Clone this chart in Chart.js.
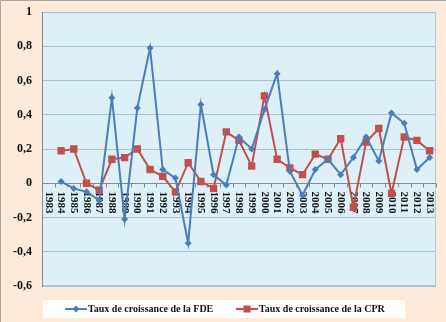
<!DOCTYPE html>
<html><head><meta charset="utf-8">
<script src="https://cdn.jsdelivr.net/npm/chart.js@4/dist/chart.umd.min.js"></script>
<style>html,body{margin:0;padding:0;background:#fdeadb}canvas{display:block}</style>
</head><body>
<canvas id="c" width="446" height="322"></canvas>
<script>
const years = ['1983','1984','1985','1986','1987','1988','1989','1990','1991','1992','1993','1994','1995','1996','1997','1998','1999','2000','2001','2002','2003','2004','2005','2006','2007','2008','2009','2010','2011','2012','2013'];
const fdeGrowth = [null,0.01,-0.03,-0.05,-0.10,0.50,-0.21,0.44,0.79,0.08,0.03,-0.35,0.46,0.05,-0.01,0.27,0.20,0.43,0.64,0.07,-0.07,0.08,0.14,0.05,0.15,0.27,0.13,0.41,0.35,0.08,0.15];
const cprGrowth = [null,0.19,0.20,0.00,-0.04,0.14,0.15,0.20,0.08,0.04,-0.05,0.12,0.01,-0.03,0.30,0.25,0.10,0.51,0.14,0.09,0.05,0.17,0.14,0.26,-0.14,0.24,0.32,-0.06,0.27,0.25,0.19];
const seriesNames = ['Taux de croissance de la FDE','Taux de croissance de la CPR'];
const yMin = -0.6, yMax = 1, yStep = 0.2;

const BLUE = '#4a7ebb', RED = '#c0504d';
const SERIF = '"Liberation Serif","Times New Roman",serif';

function fmt(v){
  const r = Math.round(v*10)/10;
  if (r === 0) return '0';
  if (Number.isInteger(r)) return String(r);
  return r.toFixed(1).replace('.', ',');
}

const deco = {
  id: 'deco',
  beforeDraw(chart){
    const {ctx, chartArea:a, width, height} = chart;
    ctx.save();
    ctx.fillStyle = '#fdeadb';
    ctx.fillRect(0,0,width,height);
    ctx.strokeStyle = '#a6a6a6';
    ctx.lineWidth = 1;
    ctx.beginPath();
    ctx.moveTo(0.5,height); ctx.lineTo(0.5,0.5); ctx.lineTo(width,0.5);
    ctx.stroke();
    ctx.fillStyle = '#ddf0f8';
    ctx.fillRect(a.left, a.top, a.right-a.left, a.bottom-a.top);
    ctx.strokeStyle = '#b4c8d4';
    ctx.strokeRect(a.left+0.5, a.top+0.5, a.right-a.left-1, a.bottom-a.top-1);
    ctx.restore();
  },
  beforeDatasetsDraw(chart){
    const {ctx, chartArea:a} = chart;
    const xs = chart.scales.x, ys = chart.scales.y;
    const y0 = Math.round(ys.getPixelForValue(0)) + 0.5;
    ctx.save();
    ctx.strokeStyle = '#8a8a8a';
    ctx.lineWidth = 1;
    const n = years.length;
    for (let i = 0; i <= n; i++){
      const x = Math.round(a.left + i*(a.right-a.left)/n) + 0.5;
      ctx.beginPath(); ctx.moveTo(x, y0); ctx.lineTo(x, y0+4); ctx.stroke();
    }
    ctx.fillStyle = '#111';
    ctx.font = 'bold 11px ' + SERIF;
    ctx.textAlign = 'left';
    ctx.textBaseline = 'middle';
    years.forEach((lab, i) => {
      const x = xs.getPixelForValue(i);
      ctx.save();
      ctx.translate(x, y0 + 8);
      ctx.rotate(Math.PI/2);
      ctx.fillText(lab, 0, 0);
      ctx.restore();
    });
    ctx.restore();
  },
  afterDraw(chart){
    const {ctx} = chart;
    ctx.save();
    ctx.fillStyle = '#ffffff';
    ctx.fillRect(43, 300, 362, 18);
    const ly = 309;
    ctx.lineWidth = 2;
    ctx.strokeStyle = BLUE;
    ctx.beginPath(); ctx.moveTo(65, ly); ctx.lineTo(87, ly); ctx.stroke();
    ctx.fillStyle = BLUE;
    ctx.beginPath(); ctx.moveTo(76, ly-3.5); ctx.lineTo(79.5, ly); ctx.lineTo(76, ly+3.5); ctx.lineTo(72.5, ly); ctx.closePath(); ctx.fill();
    ctx.strokeStyle = RED;
    ctx.beginPath(); ctx.moveTo(236, ly); ctx.lineTo(258, ly); ctx.stroke();
    ctx.fillStyle = RED;
    ctx.fillRect(243.5, ly-3.5, 7, 7);
    ctx.fillStyle = '#111';
    ctx.font = 'bold 10px ' + SERIF;
    ctx.textAlign = 'left';
    ctx.textBaseline = 'middle';
    ctx.fillText(chart.data.datasets[0].label, 88, ly+0.5);
    ctx.fillText(chart.data.datasets[1].label, 259, ly+0.5);
    ctx.restore();
  }
};

new Chart(document.getElementById('c'), {
  type: 'line',
  data: {
    labels: years,
    datasets: [
      {label: seriesNames[0], data: fdeGrowth, borderColor: BLUE, backgroundColor: BLUE, borderWidth: 2,
       pointStyle: 'rectRot', pointRadius: 3.5, pointBorderWidth: 0, tension: 0},
      {label: seriesNames[1], data: cprGrowth, borderColor: RED, backgroundColor: RED, borderWidth: 2,
       pointStyle: 'rect', pointRadius: 5.2, pointBorderWidth: 0, tension: 0}
    ]
  },
  options: {
    responsive: false,
    animation: false,
    layout: {padding: {top: 12, right: 10, bottom: 36, left: 0}},
    plugins: {legend: {display: false}, tooltip: {enabled: false}},
    scales: {
      x: {display: false, offset: true},
      y: {
        min: yMin, max: yMax,
        afterFit(s){ s.width = 42; s.paddingTop = 0; s.paddingBottom = 0; },
        ticks: {stepSize: yStep, padding: 10, color: '#111',
                font: {family: SERIF, size: 12, weight: 'bold'},
                callback: v => fmt(v)},
        grid: {drawTicks: false, lineWidth: 1,
               color: c => Math.abs(c.tick.value) < 1e-9 ? '#8a8a8a' : '#aac2d0'},
        border: {display: true, color: '#8a8a8a'}
      }
    }
  },
  plugins: [deco]
});
</script>
</body></html>
